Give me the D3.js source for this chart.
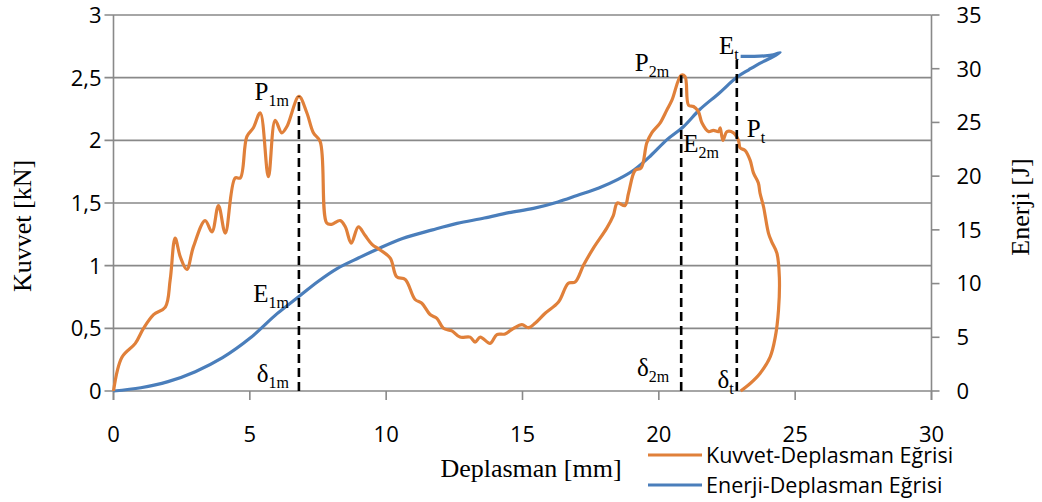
<!DOCTYPE html>
<html><head><meta charset="utf-8">
<script src="https://cdn.jsdelivr.net/npm/d3@7"></script>
<style>
html,body{margin:0;padding:0;background:#fff;}
svg{display:block;}
</style></head>
<body>
<svg id="chart" width="1042" height="502"></svg>
<script>
// ---------- DATA ----------
const forceX = [0,0.31,0.8,1.1,1.47,1.9,2.08,2.26,2.45,2.69,2.93,3.36,3.61,3.85,4.1,4.46,4.65,4.89,5.13,5.38,5.68,5.93,6.17,6.36,6.8,7.09,7.33,7.58,7.82,8.0,8.31,8.5,8.72,8.98,9.23,9.48,9.78,10.15,10.39,10.7,11.06,11.31,11.61,11.86,12.1,12.41,12.71,13.08,13.26,13.45,13.81,14.06,14.36,14.67,14.98,15.22,15.46,15.83,16.32,16.68,16.93,17.24,17.6,18.09,18.33,18.48,18.76,18.89,19.13,19.35,19.56,19.74,20.05,20.29,20.48,20.82,20.96,21.09,21.27,21.45,21.58,21.82,22.0,22.19,22.25,22.35,22.5,22.74,22.92,22.98,23.16,23.35,23.47,23.65,23.71,23.84,24.02,24.14,24.33,24.42,24.39,24.27,24.08,23.71,23.35,23.0];
const forceY = [0,0.27,0.38,0.50,0.61,0.67,0.89,1.22,1.07,0.97,1.15,1.36,1.27,1.48,1.26,1.70,1.70,2.03,2.10,2.22,1.71,2.16,2.06,2.11,2.35,2.22,2.06,1.99,1.34,1.33,1.36,1.31,1.18,1.31,1.24,1.17,1.125,1.06,0.91,0.89,0.73,0.70,0.61,0.58,0.50,0.48,0.43,0.43,0.39,0.43,0.38,0.45,0.455,0.50,0.53,0.505,0.54,0.62,0.71,0.86,0.87,1.005,1.14,1.30,1.40,1.50,1.48,1.58,1.76,1.78,1.98,2.06,2.14,2.24,2.32,2.52,2.51,2.28,2.27,2.23,2.14,2.07,2.08,2.07,2.10,2.00,2.07,2.06,2.00,1.94,1.92,1.84,1.74,1.66,1.58,1.47,1.26,1.19,1.10,0.91,0.65,0.43,0.27,0.14,0.06,0.0];
const energyX = [0,1,2,3,4,5,6,6.8,7.5,8.2,9.0,9.67,10.6,11.7,12.6,13.6,14.5,15.4,16.3,17.0,17.8,18.5,19.1,19.7,20.3,20.9,21.5,22.2,22.86,23.3,23.7,24.1,24.45,24.2,23.9,23.5,23.0];
const energyY = [0,0.3,0.87,1.8,3.1,4.9,7.2,8.8,10.2,11.4,12.4,13.2,14.2,15.0,15.6,16.1,16.6,17.0,17.6,18.2,18.9,19.7,20.6,21.9,23.4,24.6,26.2,27.7,29.2,29.9,30.5,31.0,31.5,31.3,31.2,31.15,31.15];
const xTicks = [0,5,10,15,20,25,30];
const leftTicks = [0,0.5,1,1.5,2,2.5,3];
const rightTicks = [0,5,10,15,20,25,30,35];
const markX = [6.8,20.82,22.86];          // δ1m, δ2m, δt (mm)
const markTopKN = [2.35,2.52,null];         // force tops (kN)
const markTopJ = [null,null,31.15];         // energy top (J)
const seriesNames = ["Kuvvet-Deplasman Eğrisi","Enerji-Deplasman Eğrisi"];
const xTitle = "Deplasman [mm]", yTitle = "Kuvvet [kN]", y2Title = "Enerji [J]";

// ---------- LAYOUT ----------
const svg = d3.select("#chart");
svg.append("rect").attr("width",1042).attr("height",502).attr("fill","#fff");
const L=113.5, R=931.5, T=15, B=391;
const x = d3.scaleLinear().domain([0,30]).range([L,R]);
const y = d3.scaleLinear().domain([0,3]).range([B,T]);
const y2 = d3.scaleLinear().domain([0,35]).range([B,T]);
const orange="#E0803A", blue="#4A7EBB", grid="#898989";
const tickFont="'Open Sans', sans-serif", serif="'Liberation Serif','Times New Roman',serif";

// gridlines (left axis)
svg.append("g").selectAll("line").data(leftTicks).join("line")
  .attr("x1",L-9).attr("x2",R).attr("y1",d=>y(d)).attr("y2",d=>y(d))
  .attr("stroke",grid).attr("stroke-width",1.6);
// left axis line
svg.append("line").attr("x1",L).attr("x2",L).attr("y1",T).attr("y2",B+9).attr("stroke",grid).attr("stroke-width",1.6);
// right axis
svg.append("line").attr("x1",R).attr("x2",R).attr("y1",T).attr("y2",B+9).attr("stroke",grid).attr("stroke-width",1.6);
svg.append("g").selectAll("line").data(rightTicks).join("line")
  .attr("x1",R).attr("x2",R+8).attr("y1",d=>y2(d)).attr("y2",d=>y2(d))
  .attr("stroke",grid).attr("stroke-width",1.6);
// x ticks
svg.append("g").selectAll("line").data(xTicks).join("line")
  .attr("x1",d=>x(d)).attr("x2",d=>x(d)).attr("y1",B).attr("y2",B+9)
  .attr("stroke",grid).attr("stroke-width",1.6);

// tick labels
svg.append("g").selectAll("text").data(leftTicks).join("text")
  .attr("x",L-12).attr("y",d=>y(d)).attr("dy","0.36em").attr("text-anchor","end")
  .attr("font-family",tickFont).attr("font-size",22).attr("fill","#000")
  .text(d=>String(d).replace(".",","));
svg.append("g").selectAll("text").data(rightTicks).join("text")
  .attr("x",R+25).attr("y",d=>y2(d)).attr("dy","0.36em").attr("text-anchor","start")
  .attr("font-family",tickFont).attr("font-size",22).attr("fill","#000")
  .text(d=>d);
svg.append("g").selectAll("text").data(xTicks).join("text")
  .attr("x",d=>x(d)).attr("y",442).attr("text-anchor","middle")
  .attr("font-family",tickFont).attr("font-size",22).attr("fill","#000")
  .text(d=>d);

// axis titles
svg.append("text").attr("x",531).attr("y",477).attr("text-anchor","middle")
  .attr("font-family",serif).attr("font-size",26).text(xTitle);
svg.append("text").attr("transform","translate(31,226) rotate(-90)").attr("text-anchor","middle")
  .attr("font-family",serif).attr("font-size",26).text(yTitle);
svg.append("text").attr("transform","translate(1029,207) rotate(-90)").attr("text-anchor","middle")
  .attr("font-family",serif).attr("font-size",26).text(y2Title);

// series
const forcePts = forceX.map((v,i)=>[x(v),y(forceY[i])]);
const energyPts = energyX.map((v,i)=>[x(v),y2(energyY[i])]);
const line = d3.line().curve(d3.curveCatmullRom.alpha(0.5));
svg.append("path").attr("d",line(energyPts)).attr("fill","none").attr("stroke",blue).attr("stroke-width",3.2).attr("stroke-linejoin","round");
svg.append("path").attr("d",line(forcePts)).attr("fill","none").attr("stroke",orange).attr("stroke-width",3.2).attr("stroke-linejoin","round");

// dashed marker lines
svg.append("g").selectAll("line").data(markX).join("line")
  .attr("x1",d=>x(d)).attr("x2",d=>x(d)).attr("y1",B)
  .attr("y2",(d,i)=> markTopKN[i]!=null ? y(markTopKN[i]) : y2(markTopJ[i]))
  .attr("stroke","#000").attr("stroke-width",2.6).attr("stroke-dasharray","9,5");

// annotations (anchored in data units)
const ann = [
  {m:"P",s:"1m",xv:6.8,anchor:"end",dxp:-10,yv:y(2.32)},
  {m:"E",s:"1m",xv:6.8,anchor:"end",dxp:-10,yv:y(0.71)},
  {m:"δ",s:"1m",xv:6.8,anchor:"end",dxp:-10,yv:y(0.07)},
  {m:"P",s:"2m",xv:20.82,anchor:"end",dxp:-12,yv:y(2.55)},
  {m:"E",s:"2m",xv:20.82,anchor:"start",dxp:2,yv:y(1.91)},
  {m:"δ",s:"2m",xv:20.82,anchor:"end",dxp:-12,yv:y(0.12)},
  {m:"δ",s:"t",xv:22.86,anchor:"end",dxp:-3,yv:y(0.02)},
  {m:"E",s:"t",xv:22.86,anchor:"end",dxp:2,yv:y2(31.4)},
  {m:"P",s:"t",xv:22.86,anchor:"start",dxp:10,yv:y(2.03)}
];
const ag = svg.append("g").attr("font-family",serif).attr("fill","#000");
ann.forEach(a=>{
  const t = ag.append("text").attr("x",x(a.xv)+a.dxp).attr("y",a.yv).attr("text-anchor",a.anchor);
  t.append("tspan").attr("font-size",25).text(a.m);
  t.append("tspan").attr("font-size",16).attr("dy",6).text(a.s);
});

// legend
const lg = svg.append("g");
[orange,blue].forEach((c,i)=>{
  lg.append("line").attr("x1",648).attr("x2",702).attr("y1",455+i*30).attr("y2",455+i*30)
    .attr("stroke",c).attr("stroke-width",3.2);
  lg.append("text").attr("x",706).attr("y",463+i*30).attr("font-family",tickFont)
    .attr("font-size",21.5).attr("fill","#000").text(seriesNames[i]);
});
</script>
</body></html>
